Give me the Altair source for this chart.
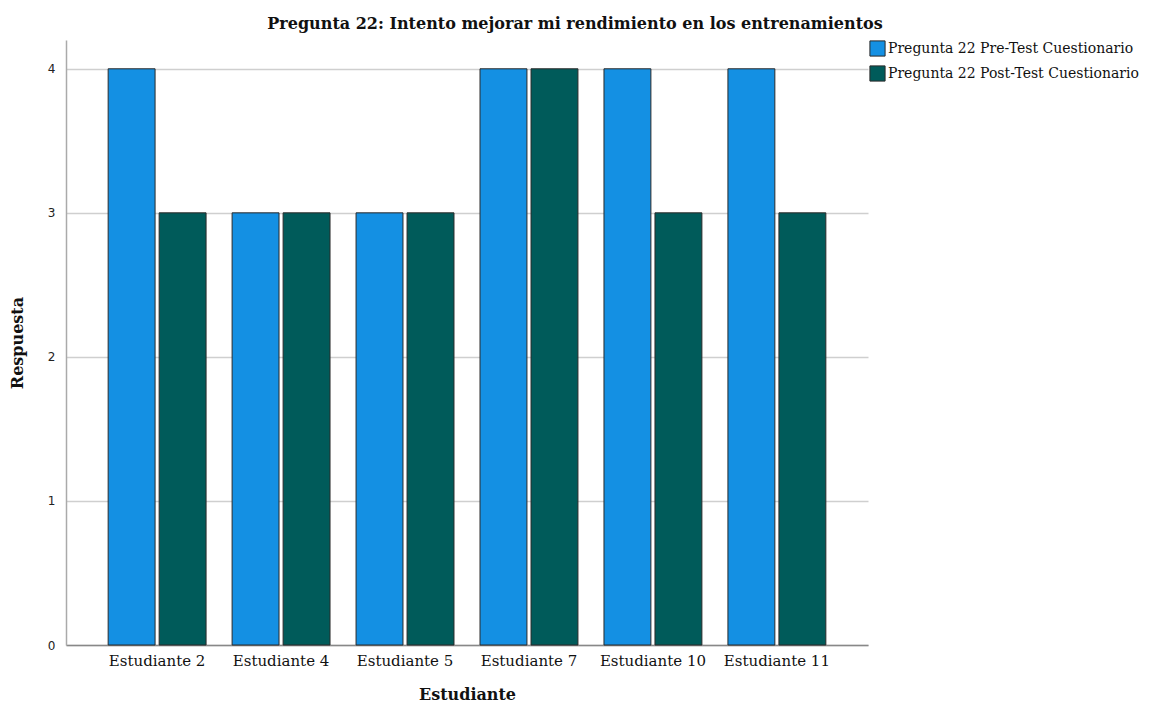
import altair as alt
import pandas as pd

students = ["Estudiante 2", "Estudiante 4", "Estudiante 5", "Estudiante 7", "Estudiante 10", "Estudiante 11"]
pre_test = [4, 3, 3, 4, 4, 4]
post_test = [3, 3, 3, 4, 3, 3]
series = ["Pregunta 22 Pre-Test Cuestionario", "Pregunta 22 Post-Test Cuestionario"]
colors = ["#1490E3", "#005B5A"]

rows = []
for s, a, b in zip(students, pre_test, post_test):
    rows.append({"Estudiante": s, "Serie": series[0], "Respuesta": a})
    rows.append({"Estudiante": s, "Serie": series[1], "Respuesta": b})
df = pd.DataFrame(rows)

serif = "DejaVu Serif"

chart = alt.Chart(df).mark_bar(stroke="#2a2a2a", strokeWidth=1).encode(
    x=alt.X("Estudiante:N", sort=students,
            scale=alt.Scale(paddingInner=0.21, paddingOuter=0.34),
            axis=alt.Axis(title="Estudiante", labelAngle=0, labelFont=serif, labelFontSize=15,
                          labelColor="#111", titleFont=serif, titleFontSize=16, titleFontWeight="bold",
                          titleColor="#111", titlePadding=18, ticks=False, labelPadding=8,
                          domainColor="#888", domainWidth=1.5)),
    xOffset=alt.XOffset("Serie:N", sort=series, scale=alt.Scale(paddingInner=0.08)),
    y=alt.Y("Respuesta:Q", scale=alt.Scale(domain=[0, 4.2], nice=False),
            axis=alt.Axis(title="Respuesta", values=[0, 1, 2, 3, 4], format="d",
                          labelFont="DejaVu Sans", labelFontSize=12, labelColor="#222",
                          titleFont=serif, titleFontSize=16, titleFontWeight="bold", titleColor="#111",
                          titlePadding=22, ticks=False, labelPadding=11, domainColor="#aaa",
                          domainWidth=1.5, grid=True, gridColor="#cfcfcf", gridWidth=1.5)),
    color=alt.Color("Serie:N", sort=series, scale=alt.Scale(domain=series, range=colors),
                    legend=alt.Legend(title=None, orient="none", legendX=803, legendY=0,
                                      symbolType="square", symbolSize=230, symbolStrokeColor="#2a2a2a",
                                      symbolStrokeWidth=1, labelFont=serif, labelFontSize=14,
                                      labelColor="#111", rowPadding=4, labelOffset=2, labelLimit=400)),
).properties(
    width=802, height=605,
    title=alt.TitleParams("Pregunta 22: Intento mejorar mi rendimiento en los entrenamientos",
                          font=serif, fontSize=16, fontWeight="bold", color="#111",
                          anchor="middle", dx=108, offset=8),
    padding={"left": 58, "top": 32, "right": 276, "bottom": 60},
    autosize=alt.AutoSizeParams(type="none"),
).configure(background="white").configure_view(stroke=None)

chart.save("out.html", embed_options={"renderer": "svg", "actions": False})
